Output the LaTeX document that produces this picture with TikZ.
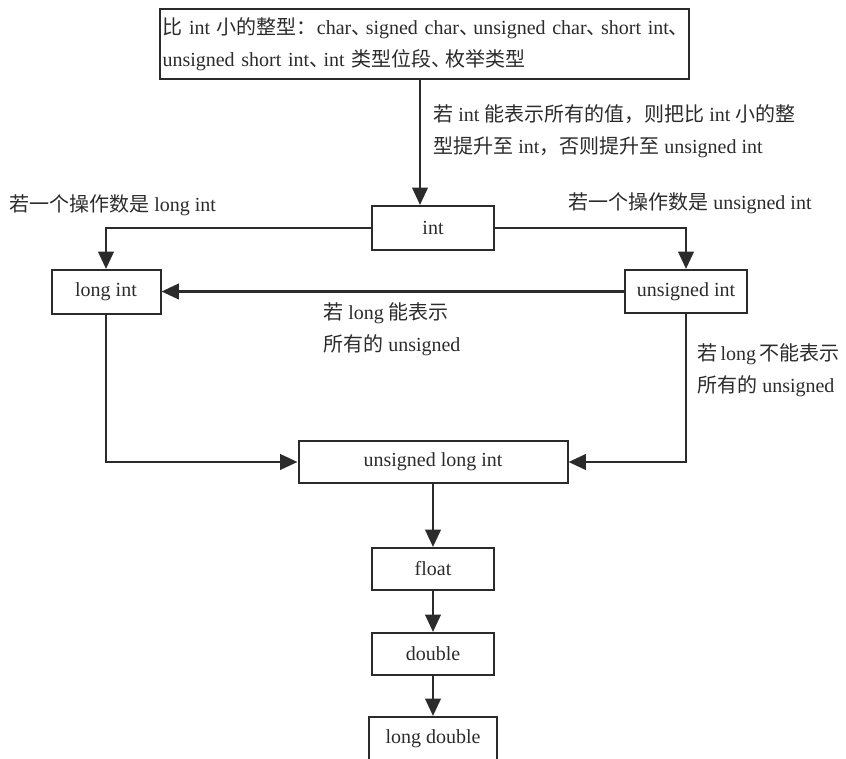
\documentclass[tikz,border=0pt]{standalone}
\usepackage{fontspec}
\setmainfont{Liberation Serif}
\newfontfamily\cjk{Noto Sans CJK SC}
\usetikzlibrary{arrows.meta}
\newcommand{\zh}[1]{{\cjk #1}}
% enumeration comma set on a slightly narrower advance
\newcommand{\dun}{\makebox[0.72em][l]{\cjk 、}}
\definecolor{ink}{HTML}{2B2B2B}

\begin{document}
\begin{tikzpicture}[x=0.75pt,y=-0.75pt,
  every node/.style={font=\fontsize{15pt}{24pt}\selectfont, text=ink},
  typebox/.style={draw=ink, line width=1.5pt, inner sep=0pt, minimum height=33pt},
  flow/.style={draw=ink, line width=2.1pt, -{Triangle[length=13pt,width=11.5pt]}},
  lbl/.style={anchor=west, align=left, inner sep=0pt}
]
\useasboundingbox (0,0) rectangle (846,759);

% the type boxes
\node[typebox, anchor=west, minimum height=52.5pt, text width=524*0.75pt,
      inner xsep=2.5*0.75pt, align=left] (small) at (159,44)
  {\zh{比} int \zh{小的整型：}char\dun signed char\dun unsigned char\dun short int\dun\\
   unsigned short int\dun int \zh{类型位段}\dun\zh{枚举类型}};
\node[typebox, minimum width=122*0.75pt] (int) at (433,228) {int};
\node[typebox, minimum width=109*0.75pt] (longint) at (106,292) {long int};
\node[typebox, minimum width=122*0.75pt, minimum height=43*0.75pt] (uint) at (686,291.5) {unsigned int};
\node[typebox, minimum width=269*0.75pt, minimum height=42*0.75pt] (ulong) at (433,462) {unsigned long int};
\node[typebox, minimum width=122*0.75pt, minimum height=42*0.75pt] (float) at (433,569) {float};
\node[typebox, minimum width=122*0.75pt, minimum height=42*0.75pt] (double) at (433,654) {double};
\node[typebox, minimum width=128*0.75pt] (ldouble) at (433,739) {long double};

% labels
\node[lbl] (cond) at (433,131)
  {\zh{若} int \zh{能表示所有的值，则把比} int \zh{小的整}\\
   \zh{型提升至} int\zh{，否则提升至} unsigned int};
\node[lbl] (opl) at (9,205) {\zh{若一个操作数是} long int};
\node[lbl] (opr) at (568,203) {\zh{若一个操作数是} unsigned int};
\node[lbl] (fits) at (323,329) {\zh{若} long \zh{能表示}\\\zh{所有的} unsigned};
\node[lbl] (nofit) at (697,370) {\zh{若}\,long\,\zh{不能表示}\\\zh{所有的} unsigned};

% connectors
\coordinate (drop) at (420,0);
\draw[flow] (small.south -| drop) -- (int.north -| drop);
\draw[flow] (int.west) -| (longint.north);
\draw[flow] (int.east) -| (uint.north);
\draw[flow] (uint.west) -- (uint.west -| longint.east);
\draw[flow] (longint.south) |- (ulong.west);
\draw[flow] (uint.south) |- (ulong.east);
\draw[flow] (ulong) -- (float);
\draw[flow] (float) -- (double);
\draw[flow] (double) -- (ldouble);
\end{tikzpicture}
\end{document}
